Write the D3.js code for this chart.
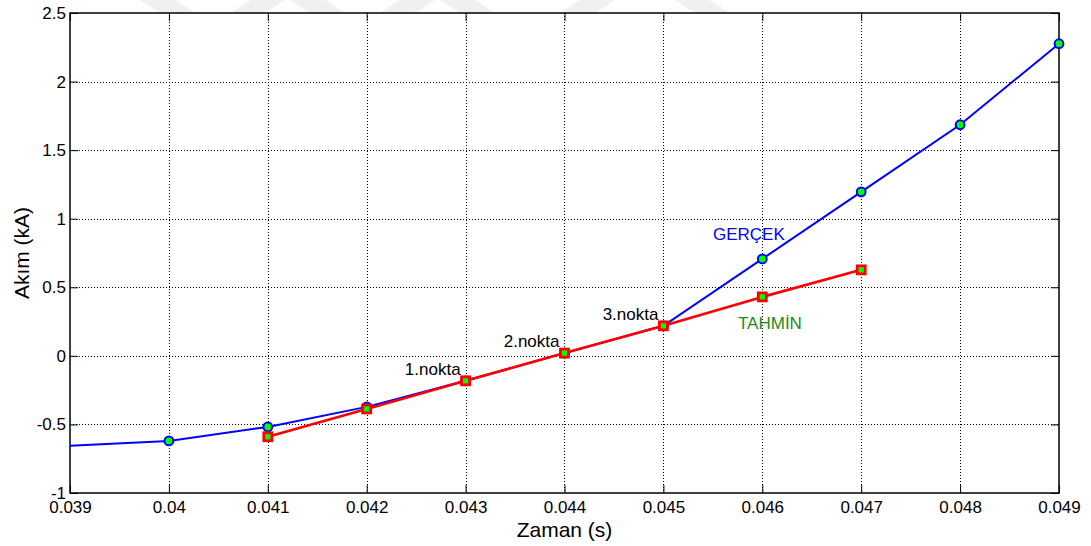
<!DOCTYPE html>
<html><head><meta charset="utf-8">
<script src="https://cdn.jsdelivr.net/npm/d3@7"></script>
<style>body{margin:0;background:#fff}svg{display:block;font-family:"Liberation Sans",Arial,sans-serif}</style>
</head><body><svg id="c" width="1091" height="546"></svg>
<script>
const xTicks = [0.039,0.040,0.041,0.042,0.043,0.044,0.045,0.046,0.047,0.048,0.049];
const xTickLabels = ["0.039","0.04","0.041","0.042","0.043","0.044","0.045","0.046","0.047","0.048","0.049"];
const yTicks = [-1,-0.5,0,0.5,1,1.5,2,2.5];
const yTickLabels = ["-1","-0.5","0","0.5","1","1.5","2","2.5"];
const gercekX = [0.039,0.040,0.041,0.042,0.043,0.044,0.045,0.046,0.047,0.048,0.049];
const gercekY = [-0.656,-0.62,-0.518,-0.372,-0.182,0.02,0.219,0.707,1.196,1.685,2.276];
const tahminX = [0.041,0.042,0.043,0.044,0.045,0.046,0.047];
const tahminY = [-0.59,-0.387,-0.182,0.02,0.219,0.43,0.627];
const annotations = [
  {t:"1.nokta", x:0.043, y:-0.182},
  {t:"2.nokta", x:0.044, y:0.02},
  {t:"3.nokta", x:0.045, y:0.219}
];

const svg = d3.select("#c");
const L=70, R=1059, T=13, B=493;
const x = d3.scaleLinear().domain([0.039,0.049]).range([L,R]);
const y = d3.scaleLinear().domain([-1,2.5]).range([B,T]);

// faint watermark stripes
const wm = svg.append("g").attr("fill","#f0f0f0");
[140,230,290,380,440,560,675].forEach((sx,i)=>{
  const dir = i%2===0 ? 1 : -1;
  wm.append("polygon").attr("points", dir>0
    ? `${sx},0 ${sx+35},0 ${sx+55},13 ${sx+20},13`
    : `${sx+20},0 ${sx+55},0 ${sx+35},13 ${sx},13`);
});

// grid
const g = svg.append("g");
g.selectAll(".gx").data(xTicks.slice(1,-1)).enter().append("line")
  .attr("x1",d=>Math.round(x(d))+0.5).attr("x2",d=>Math.round(x(d))+0.5).attr("y1",T).attr("y2",B)
  .attr("stroke","#000").attr("stroke-width",1).attr("stroke-dasharray","1,2");
g.selectAll(".gy").data(yTicks.slice(1,-1)).enter().append("line")
  .attr("y1",d=>Math.round(y(d))+0.5).attr("y2",d=>Math.round(y(d))+0.5).attr("x1",L).attr("x2",R)
  .attr("stroke","#000").attr("stroke-width",1).attr("stroke-dasharray","1,2");

// axes
const ax = svg.append("g");
ax.append("g").attr("transform",`translate(0,${B})`)
  .call(d3.axisBottom(x).tickValues(xTicks).tickFormat((d,i)=>xTickLabels[i]).tickSize(-8).tickPadding(8))
  .call(s=>{s.select(".domain").remove(); s.selectAll("text").attr("font-size",17).attr("fill","#000");});
ax.append("g").attr("transform",`translate(0,${T})`)
  .call(d3.axisTop(x).tickValues(xTicks).tickFormat("").tickSize(-8))
  .call(s=>s.select(".domain").remove());
ax.append("g").attr("transform",`translate(${L},0)`)
  .call(d3.axisLeft(y).tickValues(yTicks).tickFormat((d,i)=>yTickLabels[i]).tickSize(-8).tickPadding(4))
  .call(s=>{s.select(".domain").remove(); s.selectAll("text").attr("font-size",17).attr("fill","#000");});
ax.append("g").attr("transform",`translate(${R},0)`)
  .call(d3.axisRight(y).tickValues(yTicks).tickFormat("").tickSize(-8))
  .call(s=>s.select(".domain").remove());
ax.selectAll(".tick line").attr("stroke","#000").attr("stroke-width",1);
svg.append("rect").attr("x",L).attr("y",T).attr("width",R-L).attr("height",B-T)
  .attr("fill","none").attr("stroke","#000").attr("stroke-width",1.5);

// labels
svg.append("text").attr("x",(L+R)/2).attr("y",537).attr("text-anchor","middle")
  .attr("font-size",21).text("Zaman (s)");
svg.append("text").attr("transform",`translate(29,${(T+B)/2}) rotate(-90)`).attr("text-anchor","middle")
  .attr("font-size",21).text("Akım (kA)");

// lines
const gd = gercekX.map((d,i)=>[d,gercekY[i]]);
const td = tahminX.map((d,i)=>[d,tahminY[i]]);
const line = d3.line().x(d=>x(d[0])).y(d=>y(d[1]));
svg.append("path").attr("d",line(gd)).attr("fill","none").attr("stroke","#0000ff").attr("stroke-width",2);
svg.append("path").attr("d",line(td)).attr("fill","none").attr("stroke","#ff0000").attr("stroke-width",2.6);

// markers
svg.selectAll(".gm").data(gd.slice(1)).enter().append("circle")
  .attr("cx",d=>x(d[0])).attr("cy",d=>y(d[1])).attr("r",4.4)
  .attr("fill","#00ff00").attr("stroke","#0000ff").attr("stroke-width",2);
svg.selectAll(".tm").data(td).enter().append("rect")
  .attr("x",d=>x(d[0])-4).attr("y",d=>y(d[1])-4).attr("width",8).attr("height",8)
  .attr("fill","#00ff00").attr("stroke","#ff0000").attr("stroke-width",2.8);

// annotations
svg.selectAll(".an").data(annotations).enter().append("text")
  .attr("x",d=>x(d.x)-5).attr("y",d=>y(d.y)-6).attr("text-anchor","end")
  .attr("font-size",17).attr("fill","#000").text(d=>d.t);
svg.append("text").attr("x",713).attr("y",240).attr("font-size",17).attr("fill","#0000ff").text("GERÇEK");
svg.append("text").attr("x",738).attr("y",329).attr("font-size",17).attr("fill","#1b8c1b").text("TAHMİN");
</script></body></html>
